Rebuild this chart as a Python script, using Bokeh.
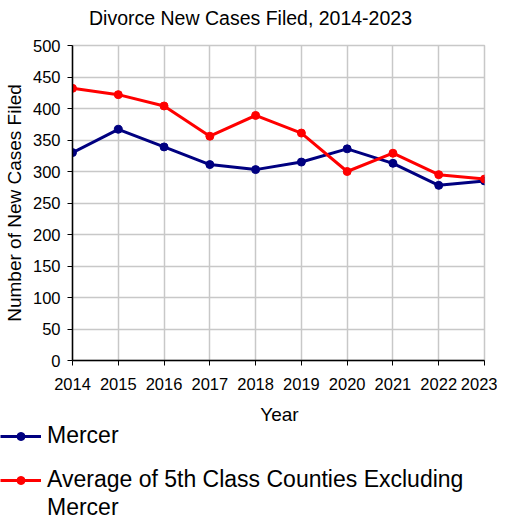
from bokeh.plotting import figure
from bokeh.models import Legend, LegendItem, FixedTicker, Range1d, Label
from bokeh.embed import file_html
from bokeh.resources import INLINE

years = [2014, 2015, 2016, 2017, 2018, 2019, 2020, 2021, 2022, 2023]
mercer = [330, 367, 339, 311, 303, 315, 336, 313, 278, 285]
avg5th = [432, 422, 404, 356, 389, 361, 300, 329, 295, 288]
y_ticks = [0, 50, 100, 150, 200, 250, 300, 350, 400, 450, 500]
series_names = ["Mercer", "Average of 5th Class Counties Excluding", "Mercer"]
title_text = "Divorce New Cases Filed, 2014-2023"

FONT = "Liberation Sans"
BLUE = "#000080"
RED = "#ff0000"


def bare(width, height):
    f = figure(width=width, height=height, output_backend="svg", toolbar_location=None,
               x_range=Range1d(0, 1), y_range=Range1d(0, 1),
               x_axis_location=None, y_axis_location=None,
               min_border=0, min_border_left=0, min_border_right=0,
               min_border_top=0, min_border_bottom=0)
    f.outline_line_color = None
    f.xgrid.visible = False
    f.ygrid.visible = False
    return f


# title strip
r = bare(497, 30)
r.add_layout(Label(x=250, y=13, x_units="screen", y_units="screen", text=title_text,
                   text_align="center", text_baseline="middle",
                   text_font=FONT, text_font_size="19.5px", text_color="black"))

# main chart
p = figure(width=497, height=365, output_backend="svg", toolbar_location=None,
           x_range=Range1d(2014, 2023), y_range=Range1d(0, 500),
           min_border_left=66, min_border_right=13, min_border_top=15, min_border_bottom=35)

p.xaxis.ticker = FixedTicker(ticks=years)
p.yaxis.ticker = FixedTicker(ticks=y_ticks)
p.yaxis.axis_label = "Number of New Cases Filed"
for ax in (p.xaxis[0], p.yaxis[0]):
    ax.axis_label_text_font = FONT
    ax.axis_label_text_font_style = "normal"
    ax.axis_label_text_font_size = "19px"
    ax.major_label_text_font = FONT
    ax.major_label_text_font_size = "16.5px"
    ax.axis_line_color = "black"
    ax.axis_line_width = 1.5
    ax.major_tick_line_color = "black"
    ax.major_tick_out = 5
    ax.major_tick_in = 0
    ax.minor_tick_line_color = None
    ax.major_label_text_color = "black"
    ax.axis_label_text_color = "black"
p.xaxis.major_label_standoff = 12
p.yaxis.major_label_standoff = 7

p.xgrid.grid_line_color = "#c8c8c8"
p.ygrid.grid_line_color = "#c8c8c8"
p.xgrid.grid_line_width = 1.5
p.ygrid.grid_line_width = 1.5
p.outline_line_color = "#c8c8c8"
p.outline_line_width = 1.5

p.line(years, mercer, line_color=BLUE, line_width=3)
p.scatter(years, mercer, size=8, fill_color=BLUE, line_color=BLUE)
p.line(years, avg5th, line_color=RED, line_width=3)
p.scatter(years, avg5th, size=8, fill_color=RED, line_color=RED)

# bottom strip: x-axis title and legend (series drawn out of view, used for legend glyphs)
q = bare(497, 126)
q.add_layout(Label(x=279, y=107, x_units="screen", y_units="screen", text="Year",
                   text_align="center", text_baseline="middle",
                   text_font=FONT, text_font_size="19px", text_color="black"))

ql1 = q.line(years, mercer, line_color=BLUE, line_width=3)
qc1 = q.scatter(years, mercer, size=8, fill_color=BLUE, line_color=BLUE)
ql2 = q.line(years, avg5th, line_color=RED, line_width=3)
qc2 = q.scatter(years, avg5th, size=8, fill_color=RED, line_color=RED)
qd = q.line(years, avg5th, line_alpha=0)


def style(lg):
    lg.label_text_font = FONT
    lg.label_text_font_size = "23px"
    lg.label_text_color = "black"
    lg.label_text_line_height = 1.0
    lg.border_line_color = None
    lg.background_fill_alpha = 0
    lg.glyph_width = 41
    lg.glyph_height = 20
    lg.label_height = 20
    lg.spacing = 1
    lg.padding = 0
    lg.margin = 0
    lg.label_standoff = 6
    lg.orientation = "vertical"


leg1 = Legend(items=[LegendItem(label=series_names[0], renderers=[ql1, qc1])], location=(0, 72))
style(leg1)
leg2 = Legend(items=[
    LegendItem(label=series_names[1], renderers=[ql2, qc2]),
    LegendItem(label=series_names[2], renderers=[qd]),
], location=(0, 0))
style(leg2)
q.add_layout(leg1)
q.add_layout(leg2)

open("out.html", "w").write(file_html([r, p, q], INLINE))
